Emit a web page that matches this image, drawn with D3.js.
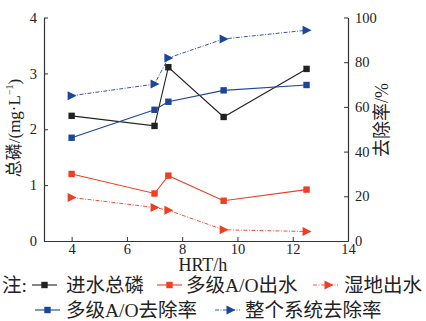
<!DOCTYPE html>
<html>
<head>
<meta charset="utf-8">
<script src="https://cdn.jsdelivr.net/npm/d3@7"></script>
<style>
  body { margin: 0; background: #fff; }
  svg { display: block; }
</style>
</head>
<body>
<div class="d3-canvas"></div>
<script>
const WIDTH = 426;
const HEIGHT = 321;

// HRT values (h)
const hrt = [4, 7, 7.5, 9.5, 12.5];
// Total phosphorus, mg/L (left axis)
const influentTP = [2.24, 2.06, 3.11, 2.22, 3.08];
const aoEffluent = [1.20, 0.85, 1.17, 0.72, 0.92];
const wetlandEffluent = [0.78, 0.60, 0.55, 0.20, 0.17];
// Removal rates, % (right axis)
const aoRemoval = [46.2, 58.7, 62.3, 67.4, 69.8];
const systemRemoval = [65.0, 70.2, 81.9, 90.4, 94.3];

const xTicks = [4, 6, 8, 10, 12, 14];
const yLeftTicks = [0, 1, 2, 3, 4];
const yRightTicks = [0, 20, 40, 60, 80, 100];

const BLACK = '#222';
const RED = '#ef3e24';
const BLUE = '#1c469c';
const DASH = '4,1.5,1,1.5';

const series = [
    {name: '进水总磷', values: influentTP, axis: 'left', color: BLACK, marker: 'square', dash: null},
    {name: '多级A/O出水', values: aoEffluent, axis: 'left', color: RED, marker: 'square', dash: null},
    {name: '湿地出水', values: wetlandEffluent, axis: 'left', color: RED, marker: 'triangle', dash: DASH},
    {name: '多级A/O去除率', values: aoRemoval, axis: 'right', color: BLUE, marker: 'square', dash: null},
    {name: '整个系统去除率', values: systemRemoval, axis: 'right', color: BLUE, marker: 'triangle', dash: DASH}
];

const margin = {top: 17.5, right: 78, bottom: 80, left: 44};
const chartWidth = WIDTH - margin.left - margin.right;
const chartHeight = 241 - margin.top;

const svg = d3.select('.d3-canvas')
    .append('svg')
        .attr('width', WIDTH)
        .attr('height', HEIGHT);

const chart = svg.append('g')
    .attr('transform', `translate(${margin.left}, ${margin.top})`);

const x = d3.scaleLinear().domain([3, 14]).range([0, chartWidth]);
const yLeft = d3.scaleLinear().domain([0, 4]).range([chartHeight, 0]);
const yRight = d3.scaleLinear().domain([0, 100]).range([chartHeight, 0]);

// Latin glyphs in serif, CJK falls back to Noto Sans CJK
const font = '"Liberation Serif", "Noto Sans CJK SC", serif';

function styleAxis(g) {
    g.attr('font-family', font).attr('font-size', 14.5);
    g.selectAll('.domain').attr('stroke', '#333').attr('stroke-width', 1.2);
    g.selectAll('.tick line').attr('stroke', '#333').attr('stroke-width', 1);
    g.selectAll('.tick text').attr('fill', '#222');
}

// Axes with inward ticks
chart.append('g')
    .attr('transform', `translate(0, ${chartHeight})`)
    .call(d3.axisBottom(x).tickValues(xTicks).tickFormat(d3.format('d'))
        .tickSizeInner(-4).tickSizeOuter(0).tickPadding(3))
    .call(styleAxis);

chart.append('g')
    .call(d3.axisLeft(yLeft).tickValues(yLeftTicks).tickFormat(d3.format('d'))
        .tickSizeInner(-4).tickSizeOuter(0).tickPadding(7))
    .call(styleAxis);

chart.append('g')
    .attr('transform', `translate(${chartWidth}, 0)`)
    .call(d3.axisRight(yRight).tickValues(yRightTicks).tickFormat(d3.format('d'))
        .tickSizeInner(-4).tickSizeOuter(0).tickPadding(7))
    .call(styleAxis);

// Axis titles
svg.append('text')
    .attr('transform', 'translate(20, 128) rotate(-90)')
    .attr('text-anchor', 'middle')
    .attr('font-family', font)
    .attr('font-size', 17)
    .attr('fill', '#222')
    .html('总磷/(mg·L<tspan dy="-7" font-size="10">−1</tspan><tspan dy="7">)</tspan>');

svg.append('text')
    .attr('transform', 'translate(388, 120) rotate(-90)')
    .attr('text-anchor', 'middle')
    .attr('font-family', font)
    .attr('font-size', 18)
    .attr('fill', '#222')
    .text('去除率/%');

svg.append('text')
    .attr('x', margin.left + x(8.75))
    .attr('y', 271)
    .attr('text-anchor', 'middle')
    .attr('font-family', font)
    .attr('font-size', 18)
    .attr('fill', '#222')
    .text('HRT/h');

function drawMarker(g, type, color, cx, cy) {
    if (type === 'square') {
        g.append('rect')
            .attr('x', cx - 3.2).attr('y', cy - 3.2)
            .attr('width', 6.4).attr('height', 6.4)
            .attr('fill', color);
    } else {
        g.append('path')
            .attr('d', `M${cx - 4},${cy - 4.5}L${cx + 5},${cy}L${cx - 4},${cy + 4.5}Z`)
            .attr('fill', color);
    }
}

// Lines and markers
series.forEach(s => {
    const yScale = s.axis === 'left' ? yLeft : yRight;
    const line = d3.line()
        .x((d, i) => x(hrt[i]))
        .y(d => yScale(d));
    chart.append('path')
        .datum(s.values)
        .attr('d', line)
        .attr('fill', 'none')
        .attr('stroke', s.color)
        .attr('stroke-width', s.dash ? 0.9 : 1.1)
        .attr('stroke-dasharray', s.dash);
    const mg = chart.append('g');
    s.values.forEach((v, i) => drawMarker(mg, s.marker, s.color, x(hrt[i]), yScale(v)));
});

// Legend
const legend = svg.append('g');
legend.append('text')
    .attr('x', 2).attr('y', 292)
    .attr('font-family', font).attr('font-size', 19.5).attr('fill', '#222')
    .text('注:');

const legendPos = [
    {lx: 32, ly: 285, tx: 66},
    {lx: 157, ly: 285, tx: 186},
    {lx: 313, ly: 285, tx: 344},
    {lx: 35, ly: 310, tx: 66},
    {lx: 215, ly: 310, tx: 245}
];

series.forEach((s, i) => {
    const p = legendPos[i];
    const lw = 25;
    legend.append('line')
        .attr('x1', p.lx).attr('x2', p.lx + lw)
        .attr('y1', p.ly).attr('y2', p.ly)
        .attr('stroke', s.color)
        .attr('stroke-width', s.dash ? 0.9 : 1.1)
        .attr('stroke-dasharray', s.dash);
    drawMarker(legend, s.marker, s.color, p.lx + lw / 2 + (s.marker === 'triangle' ? 3 : 0), p.ly);
    legend.append('text')
        .attr('x', p.tx).attr('y', p.ly + 7)
        .attr('font-family', font).attr('font-size', 19.5).attr('fill', '#222')
        .text(s.name);
});
</script>
</body>
</html>
